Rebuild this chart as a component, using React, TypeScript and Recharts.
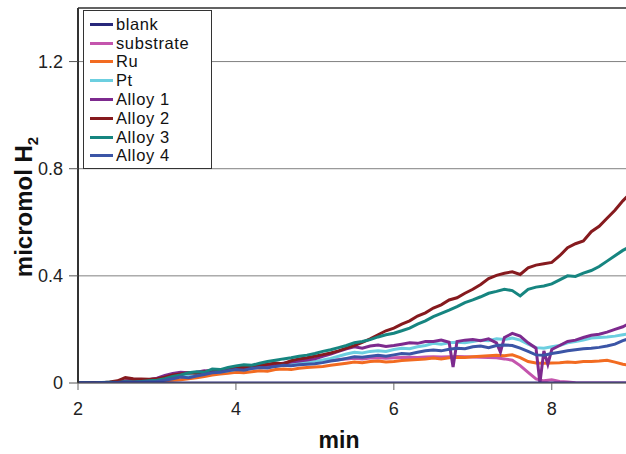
import { LineChart, Line, XAxis, YAxis, CartesianGrid, Legend, ReferenceLine } from "recharts";

// time axis (min), 0.1 min resolution
const minutes = [
  2.0, 2.1, 2.2, 2.3, 2.4, 2.5, 2.6, 2.7, 2.8, 2.9,
  3.0, 3.1, 3.2, 3.3, 3.4, 3.5, 3.6, 3.7, 3.8, 3.9,
  4.0, 4.1, 4.2, 4.3, 4.4, 4.5, 4.6, 4.7, 4.8, 4.9,
  5.0, 5.1, 5.2, 5.3, 5.4, 5.5, 5.6, 5.7, 5.8, 5.9,
  6.0, 6.1, 6.2, 6.3, 6.4, 6.5, 6.6, 6.7, 6.8, 6.9,
  7.0, 7.1, 7.2, 7.3, 7.4, 7.5, 7.6, 7.7, 7.8, 7.9,
  8.0, 8.1, 8.2, 8.3, 8.4, 8.5, 8.6, 8.7, 8.8, 8.9,
  9.0,
];

const blank = [
  0, 0, 0, 0, 0, 0, 0, 0, 0, 0,
  0, 0, 0, 0, 0, 0, 0, 0, 0, 0,
  0, 0, 0, 0, 0, 0, 0, 0, 0, 0,
  0, 0, 0, 0, 0, 0, 0, 0, 0, 0,
  0, 0, 0, 0, 0, 0, 0, 0, 0, 0,
  0, 0, 0, 0, 0, 0, 0, 0, 0, 0,
  0, 0, 0, 0, 0, 0, 0, 0, 0, 0,
  0,
];

const substrate = [
  0, 0, 0, 0.001, 0.002, 0.003, 0.006, 0.008, 0.01, 0.012,
  0.016, 0.022, 0.03, 0.034, 0.036, 0.038, 0.04, 0.042, 0.044, 0.048,
  0.05, 0.052, 0.055, 0.058, 0.06, 0.063, 0.066, 0.068, 0.07, 0.073,
  0.076, 0.08, 0.084, 0.088, 0.09, 0.092, 0.09, 0.093, 0.094, 0.092,
  0.094, 0.095, 0.096, 0.095, 0.097, 0.098, 0.097, 0.098, 0.099, 0.098,
  0.097, 0.096, 0.095, 0.094, 0.09, 0.085, 0.065, 0.04, 0.015, 0.008,
  0.012, 0.006, 0.004, 0.001, 0, 0, 0, 0, 0, 0,
  0,
];

const ru = [
  0, 0, 0.001, 0, 0.001, 0.002, 0.002, 0.003, 0.004, 0.005,
  0.006, 0.008, 0.01, 0.012, 0.016, 0.02, 0.024, 0.03, 0.034, 0.036,
  0.04, 0.038, 0.042, 0.046, 0.044, 0.05, 0.052, 0.05, 0.055, 0.058,
  0.06, 0.062, 0.066, 0.07, 0.074, 0.078, 0.076, 0.08, 0.082, 0.078,
  0.08, 0.084, 0.086, 0.088, 0.09, 0.093, 0.09, 0.094, 0.096, 0.095,
  0.098, 0.1, 0.102, 0.104, 0.102, 0.105, 0.095, 0.08, 0.075, 0.074,
  0.075, 0.076, 0.078, 0.077, 0.08, 0.08, 0.082, 0.085, 0.078, 0.07,
  0.066,
];

const pt = [
  0, 0, 0, 0.001, 0.002, 0.002, 0.004, 0.005, 0.006, 0.008,
  0.01, 0.014, 0.02, 0.026, 0.03, 0.032, 0.036, 0.04, 0.042, 0.046,
  0.05, 0.052, 0.056, 0.058, 0.062, 0.066, 0.068, 0.072, 0.075, 0.078,
  0.08, 0.086, 0.092, 0.1, 0.108, 0.115, 0.112, 0.118, 0.12, 0.118,
  0.125, 0.13, 0.128, 0.135, 0.14, 0.148, 0.145, 0.15, 0.152, 0.15,
  0.155, 0.16, 0.158, 0.165, 0.162, 0.168, 0.16, 0.145, 0.132, 0.13,
  0.135, 0.14, 0.15, 0.155, 0.16, 0.168, 0.17, 0.172, 0.175, 0.18,
  0.185,
];

const alloy1 = [
  0, 0, 0.001, 0, 0.002, 0.004, 0.008, 0.01, 0.009, 0.012,
  0.018, 0.028, 0.036, 0.04, 0.038, 0.04, 0.046, 0.044, 0.048, 0.05,
  0.052, 0.056, 0.06, 0.064, 0.066, 0.07, 0.074, 0.078, 0.082, 0.086,
  0.09, 0.1, 0.108, 0.118, 0.128, 0.135, 0.13, 0.138, 0.142, 0.136,
  0.14, 0.145, 0.15, 0.148, 0.155, 0.155, 0.16, 0.152, 0.155, 0.16,
  0.162, 0.158, 0.165, 0.15, 0.17, 0.185, 0.175, 0.15, 0.13, 0.12,
  0.125, 0.14, 0.155, 0.16, 0.17, 0.178, 0.182, 0.19, 0.2, 0.21,
  0.225,
];
// sharp drops in Alloy 1
const alloy1SpikeMin = [6.75, 7.35, 7.85, 7.95];
const alloy1SpikeVal = [0.06, 0.115, 0, 0.07];

const alloy2 = [
  0, 0, 0.002, 0.001, 0.004, 0.008, 0.02, 0.016, 0.015, 0.014,
  0.016, 0.022, 0.03, 0.034, 0.038, 0.036, 0.042, 0.048, 0.045, 0.052,
  0.056, 0.06, 0.058, 0.066, 0.07, 0.075, 0.072, 0.083, 0.09, 0.094,
  0.1, 0.106, 0.112, 0.12, 0.13, 0.14, 0.152, 0.165, 0.18, 0.195,
  0.205, 0.22, 0.232, 0.25, 0.262, 0.28, 0.292, 0.31, 0.318, 0.335,
  0.35, 0.368, 0.39, 0.402, 0.41, 0.415, 0.405, 0.43, 0.44, 0.445,
  0.45, 0.475, 0.505, 0.52, 0.53, 0.565, 0.585, 0.615, 0.645, 0.68,
  0.71,
];

const alloy3 = [
  0, 0.001, 0, 0.002, 0.003, 0.002, 0.005, 0.004, 0.006, 0.008,
  0.01, 0.016, 0.024, 0.03, 0.038, 0.042, 0.04, 0.052, 0.05, 0.058,
  0.064, 0.068, 0.066, 0.074, 0.08, 0.085, 0.09, 0.094, 0.1, 0.104,
  0.11, 0.118, 0.124, 0.132, 0.14, 0.15, 0.155, 0.162, 0.172, 0.18,
  0.186, 0.195, 0.205, 0.22, 0.232, 0.248, 0.26, 0.272, 0.285, 0.3,
  0.31, 0.322, 0.335, 0.342, 0.35, 0.345, 0.325, 0.35, 0.358, 0.362,
  0.37, 0.385, 0.4, 0.398, 0.41, 0.42, 0.435, 0.455, 0.475, 0.495,
  0.51,
];

const alloy4 = [
  0, 0, 0, 0.001, 0, 0.002, 0.003, 0.002, 0.004, 0.005,
  0.006, 0.01, 0.016, 0.022, 0.02, 0.026, 0.032, 0.038, 0.04, 0.046,
  0.05, 0.048, 0.054, 0.058, 0.056, 0.062, 0.066, 0.064, 0.068, 0.07,
  0.072, 0.076, 0.082, 0.086, 0.092, 0.098, 0.096, 0.1, 0.104, 0.1,
  0.105, 0.11, 0.108, 0.115, 0.12, 0.123, 0.12, 0.126, 0.13, 0.128,
  0.135, 0.138, 0.132, 0.14, 0.142, 0.14, 0.13, 0.118, 0.105, 0.104,
  0.11, 0.115, 0.12, 0.124, 0.128, 0.13, 0.133, 0.138, 0.145, 0.158,
  0.168,
];

const yTicks = [0, 0.4, 0.8, 1.2];
const xTicks = [2, 4, 6, 8];

const series = [
  { key: "blank", name: "blank", color: "#28287a" },
  { key: "substrate", name: "substrate", color: "#c455ad" },
  { key: "ru", name: "Ru", color: "#f26b21" },
  { key: "pt", name: "Pt", color: "#6ccfe0" },
  { key: "alloy1", name: "Alloy 1", color: "#7d2a8e" },
  { key: "alloy2", name: "Alloy 2", color: "#861a1e" },
  { key: "alloy3", name: "Alloy 3", color: "#168580" },
  { key: "alloy4", name: "Alloy 4", color: "#3b55a6" },
];

const rows: any[] = minutes.map((m, i) => ({
  min: m,
  blank: blank[i],
  substrate: substrate[i],
  ru: ru[i],
  pt: pt[i],
  alloy1: alloy1[i],
  alloy2: alloy2[i],
  alloy3: alloy3[i],
  alloy4: alloy4[i],
}));
alloy1SpikeMin.forEach((m, i) => rows.push({ min: m, alloy1: alloy1SpikeVal[i] }));
rows.sort((a, b) => a.min - b.min);

const font = "'Liberation Sans', Arial, sans-serif";
const tickStyle = { fill: "#222", fontSize: 18, fontFamily: font };

function LegendBox() {
  return (
    <div
      style={{
        width: 127,
        height: 153,
        border: "1px solid #333",
        background: "#fff",
        fontFamily: font,
        fontSize: 16.5,
        letterSpacing: 0.6,
        color: "#111",
        paddingTop: 4,
        boxSizing: "content-box",
      }}
    >
      {series.map((s) => (
        <div key={s.key} style={{ display: "flex", alignItems: "center", height: 18.8 }}>
          <span style={{ display: "inline-block", width: 23, height: 3, background: s.color, marginLeft: 6, marginRight: 3 }} />
          <span style={{ lineHeight: "17px" }}>{s.name}</span>
        </div>
      ))}
    </div>
  );
}

function YTitle(props: any) {
  const vb = props.viewBox || { x: 0, y: 8, width: 78, height: 375 };
  const x = vb.x + 32;
  const y = vb.y + 199;
  return (
    <text x={x} y={y} transform={`rotate(-90 ${x} ${y})`} textAnchor="middle" fontFamily={font} fontSize={24} fontWeight="bold" fill="#111">
      micromol H<tspan fontSize={15} dy={6}>2</tspan>
    </text>
  );
}

function XTitle(props: any) {
  const vb = props.viewBox || { x: 78, y: 383, width: 548, height: 71 };
  return (
    <text x={339} y={vb.y + 65} textAnchor="middle" fontFamily={font} fontSize={23} fontWeight="bold" fill="#111">
      min
    </text>
  );
}

export default function App() {
  return (
    <div style={{ position: "absolute", left: 0, top: 0, background: "#fff" }}>
      <LineChart width={626} height={454} data={rows} margin={{ top: 8, right: 0, left: 0, bottom: 0 }}>
        <CartesianGrid vertical={false} stroke="#808080" strokeWidth={1} />
        <XAxis
          dataKey="min"
          type="number"
          domain={[2, 8.94]}
          ticks={xTicks}
          allowDataOverflow
          height={71}
          tick={tickStyle}
          tickSize={7}
          tickMargin={12}
          tickLine={{ stroke: "#666" }}
          axisLine={{ stroke: "#666" }}
          label={<XTitle />}
        />
        <YAxis
          type="number"
          domain={[0, 1.4]}
          ticks={yTicks}
          allowDataOverflow
          width={78}
          tick={tickStyle}
          tickSize={9}
          tickMargin={6}
          tickFormatter={(v) => (v === 0 ? "0" : v.toFixed(1))}
          tickLine={{ stroke: "#555" }}
          axisLine={{ stroke: "#333", strokeWidth: 2 }}
          label={<YTitle />}
        />
        <ReferenceLine y={1.4} stroke="#444" strokeWidth={1.5} />
        <Legend
          layout="vertical"
          align="center"
          verticalAlign="middle"
          content={() => <LegendBox />}
          wrapperStyle={{ position: "absolute", left: 83, top: 10, width: "auto" }}
        />
        {series.slice(1).map((s) => (
          <Line
            key={s.key}
            dataKey={s.key}
            name={s.name}
            stroke={s.color}
            strokeWidth={3}
            dot={false}
            connectNulls
            type="linear"
            isAnimationActive={false}
          />
        ))}
        <Line dataKey="blank" name="blank" stroke={series[0].color} strokeWidth={3} dot={false} connectNulls type="linear" isAnimationActive={false} />
      </LineChart>
    </div>
  );
}
